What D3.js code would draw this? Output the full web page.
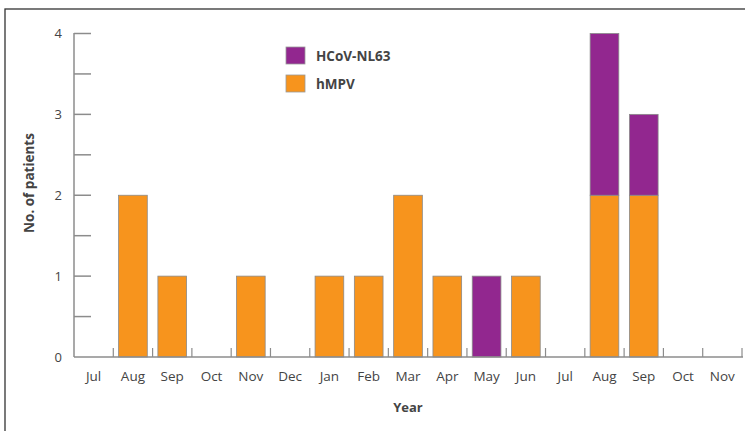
<!DOCTYPE html>
<html>
<head>
<meta charset="utf-8">
<script src="https://cdn.jsdelivr.net/npm/d3@7"></script>
<style>
  body { margin: 0; background: #fff; }
  svg { display: block; font-family: "Open Sans", "Noto Sans", sans-serif; }
</style>
</head>
<body>
<svg id="chart" width="745" height="431"></svg>
<script>
// months from Jul to Nov of the following year
var months = ['Jul','Aug','Sep','Oct','Nov','Dec','Jan','Feb','Mar','Apr','May','Jun','Jul','Aug','Sep','Oct','Nov'];
var hmpv   = [0, 2, 1, 0, 1, 0, 1, 1, 2, 1, 0, 1, 0, 2, 2, 0, 0];
var nl63   = [0, 0, 0, 0, 0, 0, 0, 0, 0, 0, 1, 0, 0, 2, 1, 0, 0];
var yTicks = [0, 1, 2, 3, 4];
var seriesNames  = ['HCoV-NL63', 'hMPV'];
var seriesColors = ['#92278f', '#f7941d'];

var svg = d3.select('#chart');

// frame
svg.append('rect')
    .attr('x', 5).attr('y', 9)
    .attr('width', 900).attr('height', 600)
    .attr('fill', 'none')
    .attr('stroke', '#333').attr('stroke-width', 1.3);

var x0 = 74, x1 = 742, yBase = 357, yTop = 33.5;

var x = d3.scaleBand()
    .domain(d3.range(months.length))
    .range([x0, x1])
    .paddingInner(0.27)
    .paddingOuter(0.135);

// band boundaries for the small ticks
var step = (x1 - x0) / months.length;

var y = d3.scaleLinear().domain([0, 4]).range([yBase, yTop]);

// stacked data
var rows = months.map(function(m, i) { return { i: i, hmpv: hmpv[i], nl63: nl63[i] }; });
var stack = d3.stack().keys(['hmpv', 'nl63'])(rows);
var colorOf = { hmpv: seriesColors[1], nl63: seriesColors[0] };

var g = svg.append('g');

stack.forEach(function(layer) {
    g.selectAll('rect.' + layer.key)
        .data(layer.filter(function(d) { return d[1] > d[0]; }))
        .enter()
        .append('rect')
            .attr('class', layer.key)
            .attr('x', function(d) { return x(d.data.i); })
            .attr('width', x.bandwidth())
            .attr('y', function(d) { return y(d[1]); })
            .attr('height', function(d) { return y(d[0]) - y(d[1]); })
            .attr('fill', colorOf[layer.key])
            .attr('stroke', '#8a8a8a')
            .attr('stroke-width', 0.8);
});

var axisColor = '#8c8c8c';

// y axis: ticks drawn inward, minor ticks at halves
var yAxis = svg.append('g').attr('transform', 'translate(' + x0 + ',0)');
yAxis.append('line')
    .attr('y1', yTop - 0.5).attr('y2', yBase)
    .attr('stroke', axisColor).attr('stroke-width', 1.5);
yAxis.selectAll('line.tk')
    .data(d3.range(0, 4.01, 0.5).filter(function(v) { return v > 0; }))
    .enter().append('line')
        .attr('class', 'tk')
        .attr('x1', 0).attr('x2', 17)
        .attr('y1', function(v) { return y(v); })
        .attr('y2', function(v) { return y(v); })
        .attr('stroke', axisColor).attr('stroke-width', 1.5);
yAxis.selectAll('text')
    .data(yTicks)
    .enter().append('text')
        .attr('x', -12)
        .attr('y', function(v) { return y(v); })
        .attr('dy', '0.35em')
        .attr('text-anchor', 'end')
        .attr('font-size', 13)
        .attr('fill', '#444')
        .text(function(v) { return v; });

// x axis
var xAxis = svg.append('g');
xAxis.append('line')
    .attr('x1', x0).attr('x2', x1 + 1)
    .attr('y1', yBase).attr('y2', yBase)
    .attr('stroke', axisColor).attr('stroke-width', 1.5);
xAxis.selectAll('line.tk')
    .data(d3.range(1, months.length + 1))
    .enter().append('line')
        .attr('class', 'tk')
        .attr('x1', function(k) { return x0 + k * step; })
        .attr('x2', function(k) { return x0 + k * step; })
        .attr('y1', yBase).attr('y2', yBase - 9)
        .attr('stroke', axisColor).attr('stroke-width', 1.2);
xAxis.selectAll('text')
    .data(months)
    .enter().append('text')
        .attr('x', function(m, i) { return x(i) + x.bandwidth() / 2; })
        .attr('y', 376)
        .attr('dy', '0.35em')
        .attr('text-anchor', 'middle')
        .attr('font-size', 13.5)
        .attr('fill', '#444')
        .text(function(m) { return m; });

// axis titles
svg.append('text')
    .attr('x', 408).attr('y', 407).attr('dy', '0.35em')
    .attr('text-anchor', 'middle')
    .attr('font-size', 13).attr('font-weight', 'bold')
    .attr('fill', '#444')
    .text('Year');
svg.append('text')
    .attr('transform', 'translate(29,183) rotate(-90)')
    .attr('dy', '0.35em')
    .attr('text-anchor', 'middle')
    .attr('font-size', 13.5).attr('font-weight', 'bold')
    .attr('fill', '#444')
    .text('No. of patients');

// legend
var legend = svg.append('g').attr('transform', 'translate(286,47)');
var items = legend.selectAll('g')
    .data(seriesNames)
    .enter().append('g')
        .attr('transform', function(d, i) { return 'translate(0,' + (i * 28) + ')'; });
items.append('rect')
    .attr('width', 19).attr('height', 17)
    .attr('fill', function(d, i) { return seriesColors[i]; })
    .attr('stroke', '#999').attr('stroke-width', 0.8);
items.append('text')
    .attr('x', 30).attr('y', 9).attr('dy', '0.35em')
    .attr('font-size', 13.5).attr('font-weight', 'bold')
    .attr('fill', '#444')
    .text(function(d) { return d; });
</script>
</body>
</html>
